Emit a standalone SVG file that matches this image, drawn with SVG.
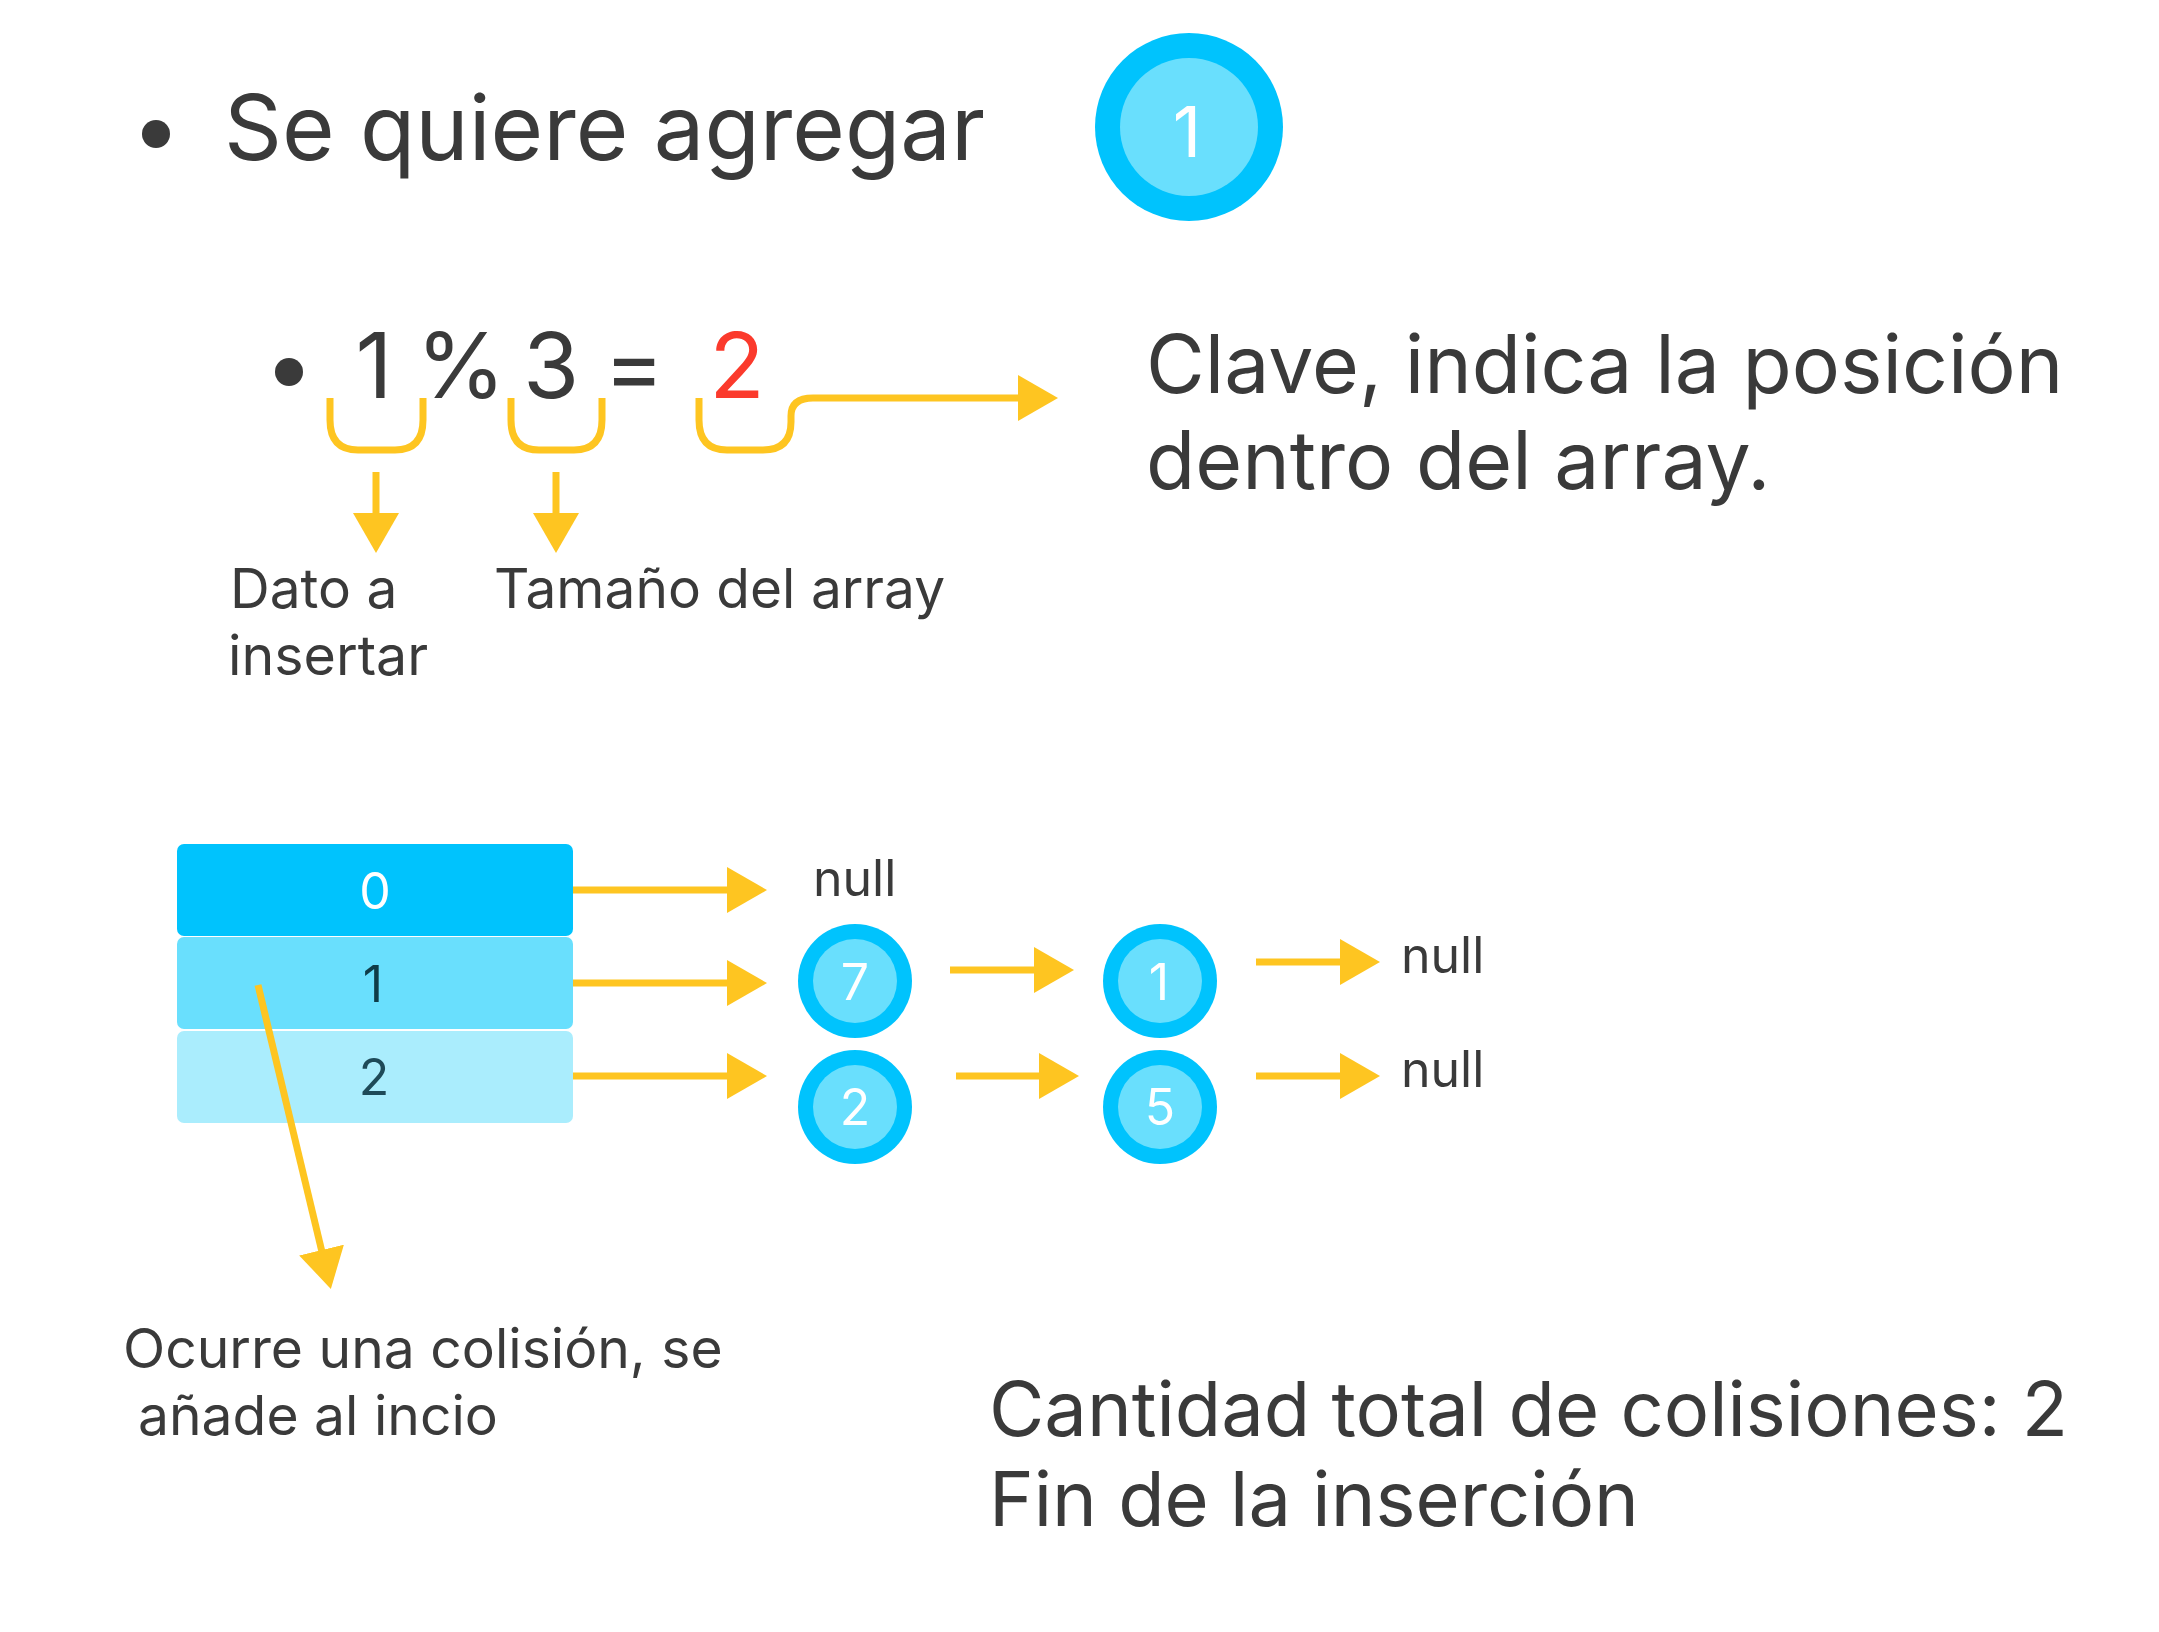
<svg xmlns="http://www.w3.org/2000/svg" width="2159" height="1632" viewBox="0 0 2159 1632">
<style>
.t{font-family:Inter,"Noto Sans","Liberation Sans",sans-serif;fill:#3a3a3a}
.w{font-family:Inter,"Noto Sans","Liberation Sans",sans-serif;fill:#ffffff;text-anchor:middle}
.y{fill:none;stroke:#fec521;stroke-width:7}
.outer{fill:#00c3fd}
.inner{fill:#69dffd}
</style>
<defs>
<marker id="ah" viewBox="0 0 40 46" refX="2" refY="23" markerWidth="40" markerHeight="46" markerUnits="userSpaceOnUse" orient="auto">
<path d="M0,0 L40,23 L0,46 Z" fill="#fec521"/>
</marker>
</defs>
<rect width="2159" height="1632" fill="#ffffff"/>

<g id="title">
<circle cx="156" cy="134" r="14" fill="#3a3a3a"/>
<text class="t" x="224" y="160" font-size="90.3">Se quiere agregar</text>
</g>
<g id="node-new-1">
<circle class="outer" cx="1189" cy="127" r="94"/>
<circle class="inner" cx="1189" cy="127" r="69"/>
<text class="w" x="1187" y="157" font-size="70">1</text>
</g>

<g id="equation">
<circle cx="289" cy="372" r="14" fill="#3a3a3a"/>
<text class="t" x="374" y="398" font-size="91" text-anchor="middle">1</text>
<text class="t" x="461" y="398" font-size="91" text-anchor="middle">%</text>
<text class="t" x="551" y="398" font-size="91" text-anchor="middle">3</text>
<text class="t" x="634" y="398" font-size="91" text-anchor="middle">=</text>
<text x="737" y="398" font-size="91" text-anchor="middle" fill="#fb3a2c" font-family="Inter,'Noto Sans','Liberation Sans',sans-serif">2</text>
</g>

<g id="label-clave">
<text class="t" x="1146" y="393" font-size="80.5">Clave, indica la posición</text>
<text class="t" x="1146" y="489" font-size="80.5">dentro del array.</text>
</g>
<g id="label-dato">
<text class="t" x="230" y="608" font-size="55">Dato a</text>
<text class="t" x="228" y="675" font-size="55.5">insertar</text>
</g>
<g id="label-tamano">
<text class="t" x="494" y="608" font-size="55">Tamaño del array</text>
</g>

<g id="array">
<g id="slot-0">
<rect x="177" y="844" width="396" height="92" rx="7" fill="#00c3fd"/>
<text x="375" y="909" font-size="50" text-anchor="middle" fill="#ffffff" font-family="Inter,'Noto Sans','Liberation Sans',sans-serif">0</text>
</g>
<g id="slot-1">
<rect x="177" y="937" width="396" height="92" rx="7" fill="#69dffd"/>
<text x="373" y="1002" font-size="50" text-anchor="middle" fill="#0f3c48" font-family="Inter,'Noto Sans','Liberation Sans',sans-serif">1</text>
</g>
<g id="slot-2">
<rect x="177" y="1031" width="396" height="92" rx="7" fill="#aaedfd"/>
<text x="374" y="1095" font-size="50" text-anchor="middle" fill="#1e4a58" font-family="Inter,'Noto Sans','Liberation Sans',sans-serif">2</text>
</g>
</g>

<g id="null-0"><text class="t" x="813" y="896" font-size="50">null</text></g>
<g id="node-7">
<circle class="outer" cx="855" cy="981" r="57"/>
<circle class="inner" cx="855" cy="981" r="42"/>
<text class="w" x="855" y="1000" font-size="50">7</text>
</g>
<g id="node-1">
<circle class="outer" cx="1160" cy="981" r="57"/>
<circle class="inner" cx="1160" cy="981" r="42"/>
<text class="w" x="1159" y="1000" font-size="50">1</text>
</g>
<g id="node-2">
<circle class="outer" cx="855" cy="1107" r="57"/>
<circle class="inner" cx="855" cy="1107" r="42"/>
<text class="w" x="855" y="1125" font-size="50">2</text>
</g>
<g id="node-5">
<circle class="outer" cx="1160" cy="1107" r="57"/>
<circle class="inner" cx="1160" cy="1107" r="42"/>
<text class="w" x="1160" y="1125" font-size="50">5</text>
</g>
<g id="null-1"><text class="t" x="1401" y="973" font-size="50">null</text></g>
<g id="null-2"><text class="t" x="1401" y="1087" font-size="50">null</text></g>

<g id="label-colision">
<text class="t" x="123" y="1368" font-size="55.2">Ocurre una colisión, se</text>
<text class="t" x="138" y="1435" font-size="55.2">añade al incio</text>
</g>
<g id="label-total">
<text class="t" x="989" y="1436" font-size="75.8">Cantidad total de colisiones: 2</text>
<text class="t" x="989" y="1526" font-size="75.8">Fin de la inserción</text>
</g>

<g id="connectors">
<path class="y" d="M330,398 V420 Q330,450 358,450 H395 Q423,450 423,420 V398"/>
<path class="y" d="M511,398 V420 Q511,450 539,450 H574 Q602,450 602,420 V398"/>
<path class="y" d="M699,398 V420 Q699,450 727,450 H763 Q791,450 791,422 V416 Q791,398 813,398 H1020" marker-end="url(#ah)"/>
<path class="y" d="M376,472 V515" marker-end="url(#ah)"/>
<path class="y" d="M556,472 V515" marker-end="url(#ah)"/>
<path class="y" d="M573,890 H729" marker-end="url(#ah)"/>
<path class="y" d="M573,983 H729" marker-end="url(#ah)"/>
<path class="y" d="M573,1076 H729" marker-end="url(#ah)"/>
<path class="y" d="M950,970 H1036" marker-end="url(#ah)"/>
<path class="y" d="M956,1076 H1041" marker-end="url(#ah)"/>
<path class="y" d="M1256,962 H1342" marker-end="url(#ah)"/>
<path class="y" d="M1256,1076 H1342" marker-end="url(#ah)"/>
<path class="y" d="M258,985 L322,1252" marker-end="url(#ah)"/>
</g>
</svg>
